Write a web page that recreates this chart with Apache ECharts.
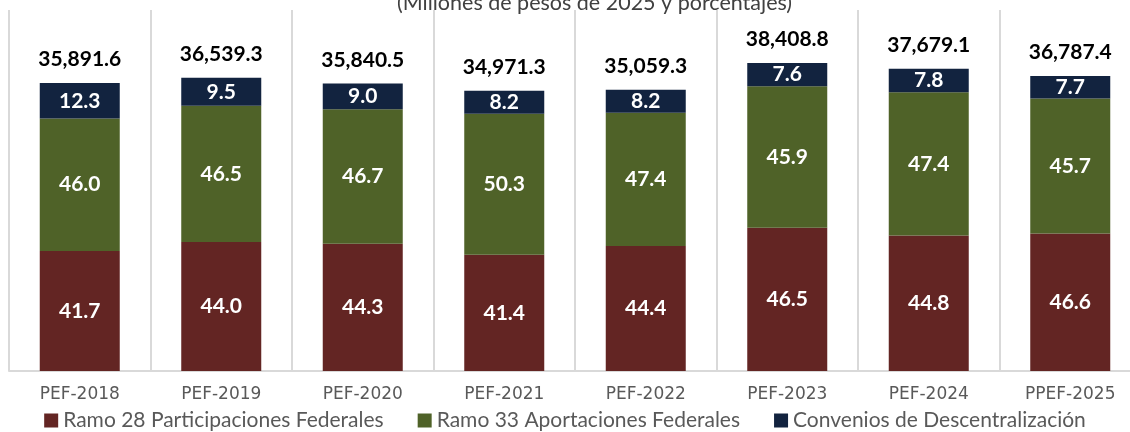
<!DOCTYPE html>
<html>
<head>
<meta charset="utf-8">
<script src="https://cdn.jsdelivr.net/npm/echarts@6/dist/echarts.min.js"></script>
<style>
html,body{margin:0;padding:0;background:#fff;}
#c{width:1130px;height:432px;}
</style>
</head>
<body>
<div id="c"></div>
<script>
var categories = ['PEF-2018','PEF-2019','PEF-2020','PEF-2021','PEF-2022','PEF-2023','PEF-2024','PPEF-2025'];
var totals = [35891.6, 36539.3, 35840.5, 34971.3, 35059.3, 38408.8, 37679.1, 36787.4];
var pctRamo28 = [41.7, 44.0, 44.3, 41.4, 44.4, 46.5, 44.8, 46.6];
var pctRamo33 = [46.0, 46.5, 46.7, 50.3, 47.4, 45.9, 47.4, 45.7];
var pctConvenios = [12.3, 9.5, 9.0, 8.2, 8.2, 7.6, 7.8, 7.7];
var seriesNames = ['Ramo 28 Participaciones Federales','Ramo 33 Aportaciones Federales','Convenios de Descentralización'];
var title = '(Millones de pesos de 2025 y porcentajes)';

var FONT = 'Lato';
function seg(pcts){
  return pcts.map(function(p,i){ return {value: totals[i]*p/100, pct: p}; });
}
function fmtTotal(v){
  return v.toLocaleString('en-US',{minimumFractionDigits:1,maximumFractionDigits:1});
}
var segLabel = {
  show:true, position:'inside', color:'#fff', fontFamily:FONT, fontWeight:'bold', fontSize:21,
  formatter:function(p){ return p.data.pct.toFixed(1); }
};
var colors = ['#632523','#4F6228','#12233F'];
var chart = echarts.init(document.getElementById('c'));
chart.setOption({
  animation:false,
  title:{text:title, left:392, top:-13, textStyle:{fontFamily:FONT, fontSize:21.5, fontWeight:'normal', color:'#404040'}},
  legend:{
    data:seriesNames, bottom:-4, left:'center', itemWidth:14, itemHeight:14, itemGap:34, icon:'rect',
    textStyle:{fontFamily:FONT, fontSize:21, color:'#595959'}
  },
  grid:{left:9, width:1132, top:10, bottom:61, containLabel:false, outerBoundsMode:'none'},
  xAxis:{
    type:'category', data:categories,
    axisLine:{show:true, lineStyle:{color:'#D9D9D9', width:2}},
    axisTick:{show:false},
    splitLine:{show:true, lineStyle:{color:'#D9D9D9', width:2}},
    axisLabel:{fontFamily:'DejaVu Sans', fontSize:17, color:'#595959', margin:15}
  },
  yAxis:{type:'value', min:0, max:45000, show:false, splitLine:{show:false}},
  series:[
    {name:seriesNames[0], type:'bar', stack:'a', barWidth:80, itemStyle:{color:colors[0]}, label:segLabel, data:seg(pctRamo28)},
    {name:seriesNames[1], type:'bar', stack:'a', barWidth:80, itemStyle:{color:colors[1]}, label:segLabel, data:seg(pctRamo33)},
    {name:seriesNames[2], type:'bar', stack:'a', barWidth:80, itemStyle:{color:colors[2]}, label:segLabel, data:seg(pctConvenios)},
    {name:'Total', type:'bar', stack:'a', barWidth:80, itemStyle:{color:'transparent'},
      label:{show:true, position:'top', distance:13, color:'#000', fontFamily:FONT, fontWeight:'bold', fontSize:21,
        formatter:function(p){ return fmtTotal(totals[p.dataIndex]); }},
      data:totals.map(function(){return 0;})}
  ]
});
</script>
</body>
</html>
